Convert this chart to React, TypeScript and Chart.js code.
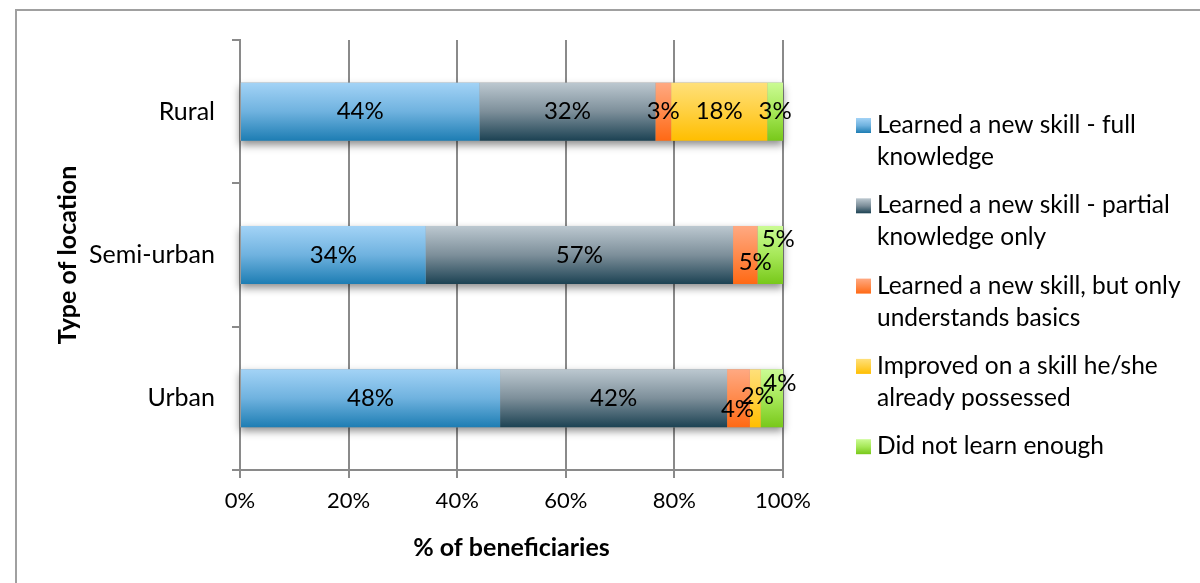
import React, { useEffect, useRef } from "react";
import { Chart, registerables } from "chart.js";

Chart.register(...registerables);

// ---- Data ----
const categories = ["Rural", "Semi-urban", "Urban"];
const seriesNames = [
  "Learned a new skill - full knowledge",
  "Learned a new skill - partial knowledge only",
  "Learned a new skill, but only understands basics",
  "Improved on a skill he/she already possessed",
  "Did not learn enough",
];
const legendLines = [
  ["Learned a new skill - full", "knowledge"],
  ["Learned a new skill - partial", "knowledge only"],
  ["Learned a new skill, but only", "understands basics"],
  ["Improved on a skill he/she", "already possessed"],
  ["Did not learn enough"],
];
const fullKnowledge = [44.1, 34.2, 47.9];
const partialKnowledge = [32.4, 56.6, 41.8];
const basicsOnly = [2.9, 4.5, 4.2];
const improvedExisting = [17.7, 0, 2.0];
const notEnough = [2.9, 4.7, 4.1];
const xTickValues = [0, 20, 40, 60, 80, 100];
const xTitle = "% of beneficiaries";
const yTitle = "Type of location";

// ---- Styles ----
const FONT = "Lato, 'Open Sans', sans-serif";
const GRID = "#8a8a8a";
const BAR_PCT = 0.405;
const gradStops = [
  ["#a3d3f6", "#6fb2df", "#1d7db3"],
  ["#bcc8d0", "#7d8f9a", "#1c4253"],
  ["#ffa982", "#ff8a4c", "#ff6914"],
  ["#ffe07a", "#ffd040", "#ffbe00"],
  ["#cbfb94", "#a6e858", "#78c81a"],
];
// label nudges (dx, dy) in px for crowded small segments [series][category]
const labelNudge = [
  [[0, 0], [0, 0], [0, 0]],
  [[0, 0], [0, 0], [0, 0]],
  [[0, 0], [10, 7], [-1, 11]],
  [[0, 0], [0, 0], [2, -2]],
  [[0, 0], [8, -16], [8, -15]],
];

function makeGradient(ctx: CanvasRenderingContext2D, y0: number, y1: number, s: number) {
  const g = ctx.createLinearGradient(0, y0, 0, y1);
  g.addColorStop(0, gradStops[s][0]);
  g.addColorStop(0.5, gradStops[s][1]);
  g.addColorStop(1, gradStops[s][2]);
  return g;
}

function barColor(s: number) {
  return (c: any) => {
    const chart = c.chart;
    const y = chart.scales && chart.scales.y;
    if (!y || c.dataIndex == null || !chart.chartArea) return gradStops[s][2];
    const center = y.getPixelForValue(c.dataIndex);
    const band = (y.bottom - y.top) / categories.length;
    const half = (band * BAR_PCT) / 2;
    return makeGradient(chart.ctx, center - half, center + half, s);
  };
}

const framePlugin = {
  id: "frame",
  beforeDraw(chart: any) {
    const ctx = chart.ctx;
    ctx.save();
    ctx.fillStyle = "#ffffff";
    ctx.fillRect(0, 0, chart.width, chart.height);
    ctx.strokeStyle = "#a0a0a0";
    ctx.lineWidth = 2;
    ctx.strokeRect(16, 10, chart.width + 20, chart.height + 20);
    ctx.restore();
  },
};

const shadowPlugin = {
  id: "barShadow",
  beforeDatasetsDraw(chart: any) {
    const ctx = chart.ctx;
    const meta = chart.getDatasetMeta(0);
    const xs = chart.scales.x;
    ctx.save();
    ctx.shadowColor = "rgba(0,0,0,0.45)";
    ctx.shadowBlur = 8;
    ctx.shadowOffsetY = 4;
    ctx.fillStyle = "#999";
    meta.data.forEach((el: any, i: number) => {
      let total = 0;
      chart.data.datasets.forEach((d: any) => (total += d.data[i] || 0));
      const p = el.getProps(["y", "height"], true);
      const x0 = xs.getPixelForValue(0);
      const x1 = xs.getPixelForValue(total);
      ctx.fillRect(x0, p.y - p.height / 2, x1 - x0, p.height);
    });
    ctx.restore();
  },
};

const labelPlugin = {
  id: "segLabels",
  afterDatasetsDraw(chart: any) {
    const ctx = chart.ctx;
    ctx.save();
    ctx.font = `24px ${FONT}`;
    ctx.fillStyle = "#000";
    ctx.textAlign = "center";
    ctx.textBaseline = "middle";
    chart.data.datasets.forEach((ds: any, s: number) => {
      const meta = chart.getDatasetMeta(s);
      meta.data.forEach((el: any, i: number) => {
        const v = ds.data[i];
        if (!v) return;
        const p = el.getProps(["x", "base", "y"], true);
        const [dx, dy] = labelNudge[s][i];
        ctx.fillText(Math.round(v) + "%", (p.x + p.base) / 2 + dx, p.y + dy);
      });
    });
    ctx.restore();
  },
};

const legendPlugin = {
  id: "sideLegend",
  afterDraw(chart: any) {
    const ctx = chart.ctx;
    const area = chart.chartArea;
    const x0 = area.right + 73;
    let base = area.top + 93;
    ctx.save();
    ctx.font = `24.5px ${FONT}`;
    ctx.fillStyle = "#000";
    ctx.textAlign = "left";
    ctx.textBaseline = "alphabetic";
    legendLines.forEach((lines, s) => {
      ctx.fillStyle = makeGradient(ctx, base - 15, base, s);
      ctx.fillRect(x0, base - 15, 15, 15);
      ctx.fillStyle = "#000";
      lines.forEach((t, k) => ctx.fillText(t, x0 + 21, base + k * 32));
      base += 80.3;
    });
    ctx.restore();
  },
};

export default function App() {
  const ref = useRef<HTMLCanvasElement | null>(null);
  useEffect(() => {
    if (!ref.current) return;
    const seriesData = [fullKnowledge, partialKnowledge, basicsOnly, improvedExisting, notEnough];
    const chart = new Chart(ref.current, {
      type: "bar",
      data: {
        labels: categories,
        datasets: seriesData.map((d, s) => ({
          label: seriesNames[s],
          data: d,
          backgroundColor: barColor(s),
          borderWidth: 0,
          barPercentage: BAR_PCT,
          categoryPercentage: 1,
        })),
      },
      options: {
        indexAxis: "y",
        responsive: false,
        animation: false,
        layout: { padding: { top: 40, right: 417, left: 0, bottom: 0 } },
        plugins: {
          legend: { display: false },
          tooltip: { enabled: false },
        },
        scales: {
          x: {
            type: "linear",
            stacked: true,
            min: 0,
            max: 100,
            afterBuildTicks: (scale: any) => {
              scale.ticks = xTickValues.map((v) => ({ value: v }));
            },
            ticks: {
              color: "#000",
              font: { family: FONT, size: 22 },
              padding: 10,
              callback: (v: any) => v + "%",
            },
            grid: { color: GRID, lineWidth: 2, tickLength: 8, drawTicks: true },
            border: { display: true, color: GRID, width: 2 },
            title: {
              display: true,
              text: xTitle,
              color: "#000",
              font: { family: FONT, size: 25, weight: "bold" },
              padding: { top: 0, bottom: 20 },
            },
            afterFit: (scale: any) => {
              scale.height = 113;
            },
          },
          y: {
            type: "category",
            stacked: true,
            grid: { offset: true, drawOnChartArea: false, drawTicks: true, tickLength: 8, color: GRID, lineWidth: 2 },
            border: { display: true, color: GRID, width: 2 },
            ticks: { color: "#000", font: { family: FONT, size: 25 }, padding: 17 },
            title: {
              display: true,
              text: yTitle,
              color: "#000",
              font: { family: FONT, size: 25, weight: "bold" },
              padding: { top: 53, bottom: 0 },
            },
            afterFit: (scale: any) => {
              scale.width = 240;
            },
          },
        },
      } as any,
      plugins: [framePlugin, shadowPlugin, labelPlugin, legendPlugin],
    });
    return () => chart.destroy();
  }, []);
  return (
    <div style={{ position: "fixed", left: 0, top: 0, width: 1200, height: 583 }}>
      <canvas ref={ref} width={1200} height={583} style={{ display: "block" }} />
    </div>
  );
}
